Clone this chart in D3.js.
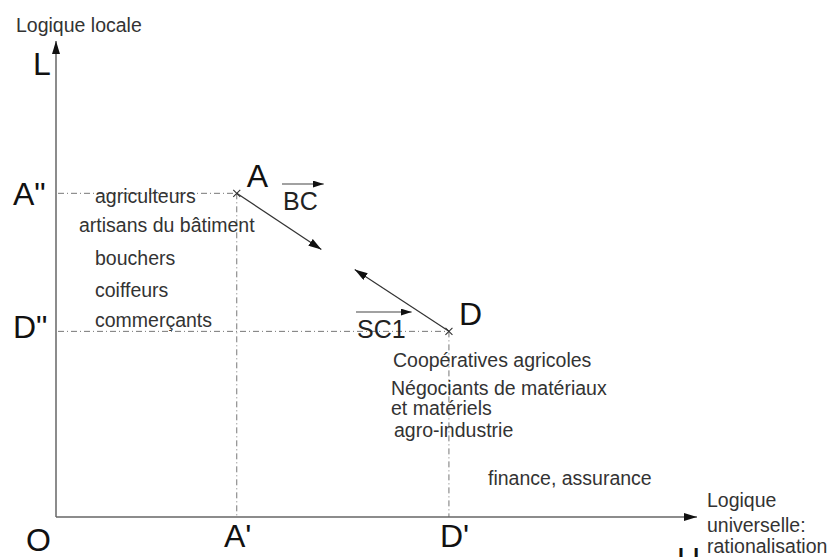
<!DOCTYPE html>
<html>
<head>
<meta charset="utf-8">
<script src="https://cdn.jsdelivr.net/npm/d3@7"></script>
<style>
  html, body { margin: 0; padding: 0; background: #fff; }
  svg { display: block; font-family: "Liberation Sans", Arial, sans-serif; }
</style>
</head>
<body>
<svg id="chart" width="833" height="557"></svg>
<script>
// ---- data (diagram units, 0..100 on each axis) ----
const pointNames = ["A", "D"];
const pointX = [28.2, 61.3];
const pointY = [68.0, 39.0];
// arrow ends starting at A and at D
const arrowEndX = [41.4, 46.6];
const arrowEndY = [56.2, 52.0];
const vectorLabels = ["BC", "SC1"];
const leftGroup = ["agriculteurs", "artisans du bâtiment", "bouchers", "coiffeurs", "commerçants"];
const rightGroup = ["Coopératives agricoles", "Négociants de matériaux", "et matériels", "agro-industrie"];
const farGroup = ["finance, assurance"];
const yAxisTitle = "Logique locale";
const xAxisTitle = ["Logique", "universelle:", "rationalisation"];

// ---- layout ----
const svg = d3.select("#chart");
const x = d3.scaleLinear().domain([0, 100]).range([56, 697]);
const y = d3.scaleLinear().domain([0, 100]).range([517, 41]);

const defs = svg.append("defs");
function marker(id, w, h) {
  defs.append("marker").attr("id", id)
    .attr("viewBox", `0 0 ${w} ${h}`).attr("refX", w).attr("refY", h / 2)
    .attr("markerWidth", w).attr("markerHeight", h)
    .attr("markerUnits", "userSpaceOnUse").attr("orient", "auto")
    .append("path").attr("d", `M0,0L${w},${h / 2}L0,${h}Z`).attr("fill", "#111");
}
marker("axisHead", 13, 8);
marker("arrHead", 13, 8);
marker("vecHead", 11, 7);

// dash-dot projection lines
const dash = "6,3,1,3";
pointNames.forEach((n, i) => {
  svg.append("line")
    .attr("x1", x(0) + 2).attr("x2", x(pointX[i]))
    .attr("y1", y(pointY[i])).attr("y2", y(pointY[i]))
    .attr("stroke", "#777").attr("stroke-width", 1).attr("stroke-dasharray", dash);
  svg.append("line")
    .attr("x1", x(pointX[i])).attr("x2", x(pointX[i]))
    .attr("y1", y(pointY[i])).attr("y2", y(0))
    .attr("stroke", "#777").attr("stroke-width", 1).attr("stroke-dasharray", dash);
});

// axes
svg.append("line").attr("x1", x(0)).attr("x2", x(0)).attr("y1", y(0)).attr("y2", y(100))
  .attr("stroke", "#666").attr("stroke-width", 1.5).attr("marker-end", "url(#axisHead)");
svg.append("line").attr("x1", x(0)).attr("x2", x(100)).attr("y1", y(0)).attr("y2", y(0))
  .attr("stroke", "#666").attr("stroke-width", 1.5).attr("marker-end", "url(#axisHead)");

// arrows from points
pointNames.forEach((n, i) => {
  svg.append("line")
    .attr("x1", x(pointX[i])).attr("y1", y(pointY[i]))
    .attr("x2", x(arrowEndX[i])).attr("y2", y(arrowEndY[i]))
    .attr("stroke", "#333").attr("stroke-width", 1.2).attr("marker-end", "url(#arrHead)");
});

// x marks
pointNames.forEach((n, i) => {
  const cx = x(pointX[i]), cy = y(pointY[i]);
  svg.append("path").attr("d", `M${cx - 3.5},${cy - 3.5}L${cx + 3.5},${cy + 3.5}M${cx + 3.5},${cy - 3.5}L${cx - 3.5},${cy + 3.5}`)
    .attr("stroke", "#333").attr("stroke-width", 1.1).attr("fill", "none");
});

// big labels
const big = 32;
function bigText(t, px, py, size) {
  svg.append("text").attr("x", px).attr("y", py).attr("font-size", size || big)
    .attr("fill", "#111").text(t);
}
bigText("L", 33, 75);
bigText("A\"", 13, 205);
bigText("D\"", 13, 338);
bigText("O", 26, 551);
bigText("A'", 224, 547);
bigText("D'", 440, 547);
bigText("U", 677, 570);
pointNames.forEach((n, i) => bigText(n, x(pointX[i]) + 10, y(pointY[i]) - 6));

// vector labels with overline arrows
const vecPos = [[283, 210], [357, 338]];
vectorLabels.forEach((v, i) => {
  const t = svg.append("text").attr("x", vecPos[i][0]).attr("y", vecPos[i][1])
    .attr("font-size", 25).attr("fill", "#222").text(v);
  const w = t.node().getComputedTextLength();
  svg.append("line").attr("x1", vecPos[i][0] - 1).attr("x2", vecPos[i][0] + w + 6)
    .attr("y1", vecPos[i][1] - 26).attr("y2", vecPos[i][1] - 26)
    .attr("stroke", "#444").attr("stroke-width", 1.2).attr("marker-end", "url(#vecHead)");
});

// small texts
const small = 19.5;
function smallText(t, px, py) {
  svg.append("text").attr("x", px).attr("y", py).attr("font-size", small)
    .attr("fill", "#333").text(t);
}
const leftPos = [[95, 203], [79, 232], [95, 265], [95, 297], [95, 327]];
leftGroup.forEach((t, i) => smallText(t, leftPos[i][0], leftPos[i][1]));
const rightPos = [[393, 367], [391, 395], [391, 415], [394, 437]];
rightGroup.forEach((t, i) => smallText(t, rightPos[i][0], rightPos[i][1]));
smallText(farGroup[0], 488, 485);
smallText(yAxisTitle, 16, 32);
const xtPos = [507, 532, 553];
xAxisTitle.forEach((t, i) => smallText(t, 707, xtPos[i]));
</script>
</body>
</html>
